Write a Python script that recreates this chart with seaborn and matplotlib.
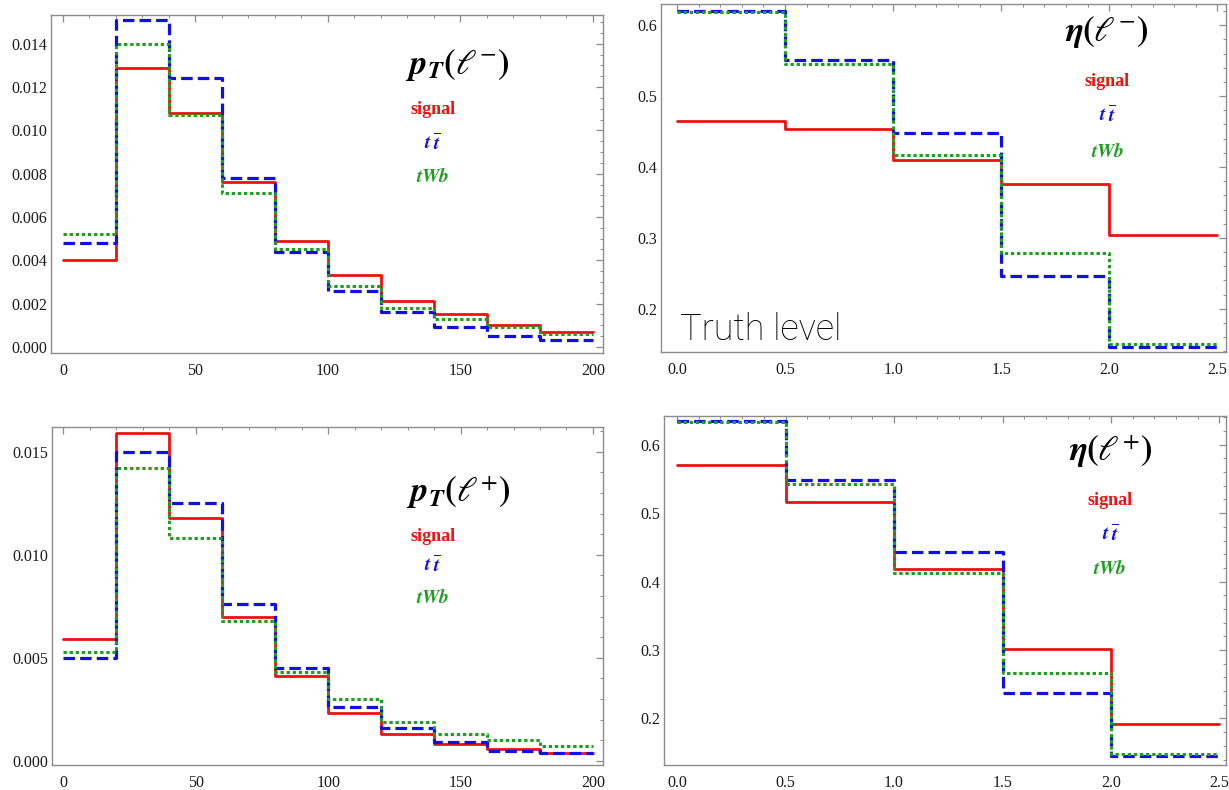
import numpy as np
import pandas as pd
import seaborn as sns
import matplotlib.pyplot as plt
from matplotlib.ticker import MultipleLocator, FormatStrFormatter

# bin edges
pt_edges = [0, 20, 40, 60, 80, 100, 120, 140, 160, 180, 200]
eta_edges = [0.0, 0.5, 1.0, 1.5, 2.0, 2.5]

# pT(l-)
ptm_signal = [0.0040, 0.0129, 0.0108, 0.0076, 0.0049, 0.0033, 0.0021, 0.0015, 0.0010, 0.0007]
ptm_tt = [0.0048, 0.0151, 0.0124, 0.0078, 0.0044, 0.0026, 0.0016, 0.0009, 0.0005, 0.0003]
ptm_twb = [0.0052, 0.0140, 0.0107, 0.0071, 0.0045, 0.0028, 0.0018, 0.0013, 0.0009, 0.0006]

# eta(l-)
etam_signal = [0.465, 0.453, 0.410, 0.376, 0.304]
etam_tt = [0.620, 0.551, 0.448, 0.246, 0.146]
etam_twb = [0.619, 0.546, 0.417, 0.278, 0.150]

# pT(l+)
ptp_signal = [0.0059, 0.0159, 0.0118, 0.0070, 0.0041, 0.0023, 0.0013, 0.0008, 0.0006, 0.0004]
ptp_tt = [0.0050, 0.0150, 0.0125, 0.0076, 0.0045, 0.0026, 0.0016, 0.0009, 0.0005, 0.0004]
ptp_twb = [0.0053, 0.0142, 0.0108, 0.0068, 0.0043, 0.0030, 0.0019, 0.0013, 0.0010, 0.0007]

# eta(l+)
etap_signal = [0.571, 0.517, 0.419, 0.302, 0.192]
etap_tt = [0.634, 0.549, 0.443, 0.237, 0.145]
etap_twb = [0.633, 0.543, 0.413, 0.267, 0.148]

samples = ["signal", "tt", "tWb"]
colors = {"signal": "#ee1111", "tt": "#1010e0", "tWb": "#1f9f1f"}
styles = {"signal": "-", "tt": (0, (3.6, 1.6)), "tWb": (0, (1.1, 0.9))}
widths = {"signal": 2.0, "tt": 2.3, "tWb": 2.2}
labels = {"signal": "signal",
          "tt": r"$\mathbfit{t}\;\overline{\mathbfit{t}}$",
          "tWb": r"$\mathbfit{tWb}$"}

sns.set_style("white")
plt.rcParams["font.family"] = ["Liberation Serif", "DejaVu Serif"]
plt.rcParams["mathtext.fontset"] = "stix"

frame_col = "#8c8c8c"


def steps(edges, vals):
    # repeat the last value so the last bin is drawn to the right edge
    return pd.DataFrame({"x": edges, "y": list(vals) + [vals[-1]]})


def panel(ax, edges, series, xlim, ylim, xmaj, xmin, ymaj, ymin, yfmt, xfmt,
          title, tpos, lpos):
    for s in samples:
        d = steps(edges, series[s])
        sns.lineplot(data=d, x="x", y="y", ax=ax, color=colors[s],
                     linestyle=styles[s], lw=widths[s], drawstyle="steps-post",
                     estimator=None, sort=False)
    ax.set_xlim(*xlim)
    ax.set_ylim(*ylim)
    ax.set_xlabel("")
    ax.set_ylabel("")
    ax.xaxis.set_major_locator(MultipleLocator(xmaj))
    ax.xaxis.set_minor_locator(MultipleLocator(xmin))
    ax.yaxis.set_major_locator(MultipleLocator(ymaj))
    ax.yaxis.set_minor_locator(MultipleLocator(ymin))
    ax.yaxis.set_major_formatter(FormatStrFormatter(yfmt))
    ax.xaxis.set_major_formatter(FormatStrFormatter(xfmt))
    ax.tick_params(which="both", direction="in", top=True, right=True,
                   color=frame_col, labelsize=11.5, labelcolor="#1a1a1a")
    ax.tick_params(which="major", length=5, width=0.9)
    ax.tick_params(which="minor", length=2.5, width=0.7)
    ax.tick_params(axis="x", which="major", pad=7)
    ax.tick_params(axis="y", which="major", pad=3)
    for sp in ax.spines.values():
        sp.set_color(frame_col)
        sp.set_linewidth(1.0)
    ax.text(tpos[0], tpos[1], title, transform=ax.transAxes, fontsize=25,
            ha="center", va="center", color="black")
    for s, yy in zip(samples, lpos[1]):
        if s == "signal":
            ax.text(lpos[0], yy, "signal", transform=ax.transAxes, fontsize=13,
                    fontweight="bold", ha="center", va="center", color=colors[s])
        else:
            ax.text(lpos[0], yy, labels[s], transform=ax.transAxes, fontsize=14,
                    ha="center", va="center", color=colors[s])


fig = plt.figure(figsize=(12.29, 7.90), dpi=100)

ax1 = fig.add_axes([51 / 1229, 1 - 353 / 790, 552 / 1229, 338 / 790])
ax2 = fig.add_axes([661 / 1229, 1 - 352 / 790, 565 / 1229, 348 / 790])
ax3 = fig.add_axes([52 / 1229, 1 - 765 / 790, 551 / 1229, 338 / 790])
ax4 = fig.add_axes([664 / 1229, 1 - 765 / 790, 562 / 1229, 349 / 790])

panel(ax1, pt_edges, {"signal": ptm_signal, "tt": ptm_tt, "tWb": ptm_twb},
      (-4.5, 203.8), (-0.00028, 0.01533), 50, 10, 0.002, 0.0005, "%.3f", "%d",
      r"$\mathbfit{p_T}\mathbf{(}\ell^{-}\mathbf{)}$", (0.737, 0.852),
      (0.692, [0.719, 0.621, 0.521]))
panel(ax2, eta_edges, {"signal": etam_signal, "tt": etam_tt, "tWb": etam_twb},
      (-0.074, 2.54), (0.139, 0.630), 0.5, 0.1, 0.1, 0.02, "%.1f", "%.1f",
      r"$\mathbfit{\eta}\mathbf{(}\ell^{-}\mathbf{)}$", (0.789, 0.920),
      (0.790, [0.776, 0.681, 0.575]))
panel(ax3, pt_edges, {"signal": ptp_signal, "tt": ptp_tt, "tWb": ptp_twb},
      (-4.3, 203.8), (-0.0002, 0.0162), 50, 10, 0.005, 0.001, "%.3f", "%d",
      r"$\mathbfit{p_T}\mathbf{(}\ell^{+}\mathbf{)}$", (0.737, 0.808),
      (0.691, [0.675, 0.592, 0.497]))
panel(ax4, eta_edges, {"signal": etap_signal, "tt": etap_tt, "tWb": etap_twb},
      (-0.06, 2.53), (0.132, 0.642), 0.5, 0.1, 0.1, 0.02, "%.1f", "%.1f",
      r"$\mathbfit{\eta}\mathbf{(}\ell^{+}\mathbf{)}$", (0.794, 0.900),
      (0.794, [0.759, 0.662, 0.564]))

ax2.text(0.034, 0.035, "Truth level", transform=ax2.transAxes, fontsize=26,
         family=["Roboto", "DejaVu Sans"], fontweight="light", ha="left",
         va="baseline", color="black")

fig.savefig("out.png", dpi=100)
